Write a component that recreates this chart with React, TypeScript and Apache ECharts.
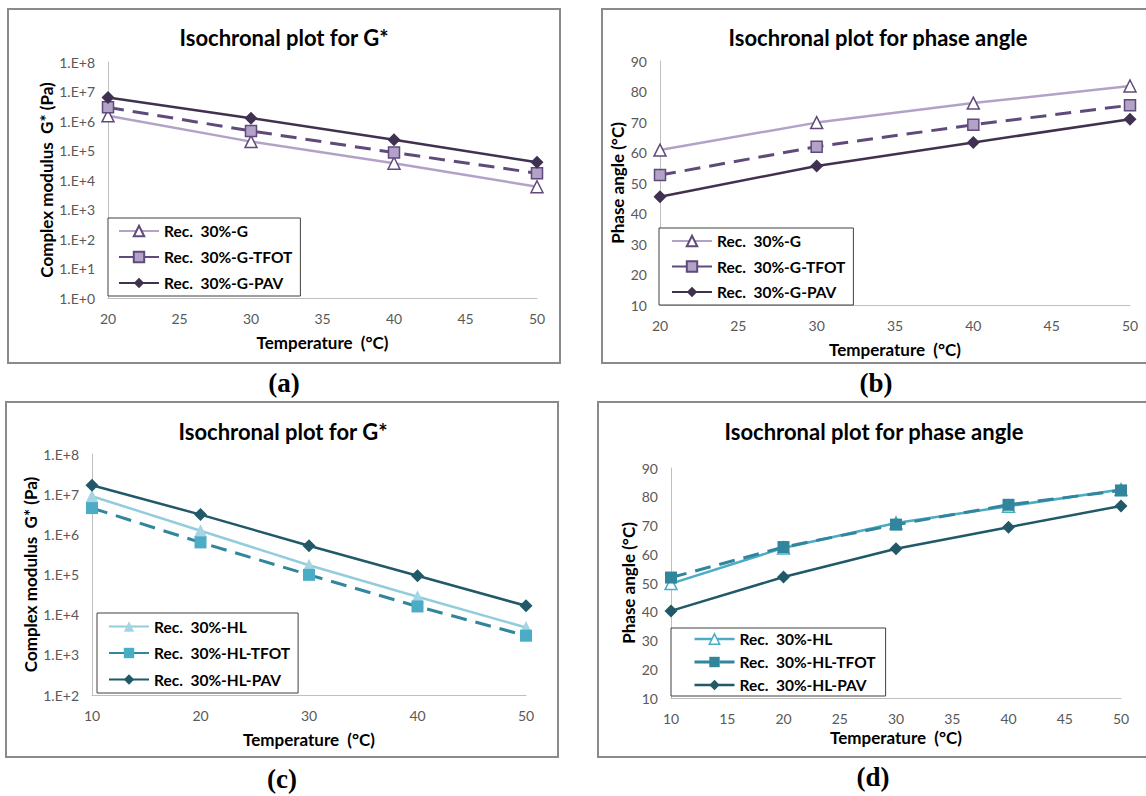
import React, { useEffect, useRef } from "react";
import * as echarts from "echarts";

// ---- data ----
const tempAB = [20, 30, 40, 50];
const gstarA_G = [1.5e6, 2.0e5, 3.7e4, 5.9e3];
const gstarA_TFOT = [2.9e6, 4.6e5, 8.5e4, 1.7e4];
const gstarA_PAV = [6.3e6, 1.25e6, 2.3e5, 4.0e4];

const phaseB_G = [60.8, 69.8, 76.2, 81.8];
const phaseB_TFOT = [52.6, 61.9, 69.1, 75.5];
const phaseB_PAV = [45.5, 55.6, 63.3, 70.9];

const tempCD = [10, 20, 30, 40, 50];
const gstarC_HL = [8.9e6, 1.23e6, 1.7e5, 2.8e4, 4.8e3];
const gstarC_TFOT = [4.5e6, 6.3e5, 9.8e4, 1.6e4, 3.0e3];
const gstarC_PAV = [1.66e7, 3.1e6, 5.2e5, 9.3e4, 1.66e4];

const phaseD_HL = [49.8, 62.2, 70.9, 76.7, 82.5];
const phaseD_TFOT = [51.9, 62.5, 70.3, 77.2, 82.2];
const phaseD_PAV = [40.3, 52.1, 61.9, 69.4, 76.8];

const namesG = ["Rec.  30%-G", "Rec.  30%-G-TFOT", "Rec.  30%-G-PAV"];
const namesHL = ["Rec.  30%-HL", "Rec.  30%-HL-TFOT", "Rec.  30%-HL-PAV"];

const titleG = "Isochronal plot for G*";
const titlePhase = "Isochronal plot for phase angle";
const xTitle = "Temperature  (°C)";
const yTitleG = "Complex modulus  G* (Pa)";
const yTitlePhase = "Phase angle (°C)";
const panelLabels = ["(a)", "(b)", "(c)", "(d)"];

const SANS = "Lato, 'Open Sans', sans-serif";
const DASH = [16, 9];

const pairs = (xs: number[], ys: number[]) => xs.map((x, i) => [x, ys[i]]);

export default function App() {
  const ref = useRef<HTMLDivElement>(null);

  useEffect(() => {
    if (!ref.current) return;
    const chart = echarts.init(ref.current, undefined, { renderer: "svg" });

    const axisLineStyle = { show: true, onZero: false, lineStyle: { color: "#bfbfbf", width: 1 } };
    const tickLabel = { color: "#595959", fontSize: 14, fontFamily: SANS };
    const nameStyle = { fontWeight: "bold" as const, fontSize: 17, color: "#000", fontFamily: SANS };

    const xAxis = (gridIndex: number, min: number, interval: number) => ({
      gridIndex,
      type: "value",
      min,
      max: 50,
      interval,
      axisLine: axisLineStyle,
      axisTick: { show: false },
      splitLine: { show: false },
      axisLabel: { ...tickLabel, margin: 13 },
      name: xTitle,
      nameLocation: "middle",
      nameGap: gridIndex === 3 ? 31 : 36,
      nameTextStyle: nameStyle,
    });

    const logFmt = (v: number) => "1.E+" + Math.round(Math.log10(v));

    const yLog = (gridIndex: number, min: number, split: number, gap: number) => ({
      gridIndex,
      type: "log",
      logBase: 10,
      min,
      max: 1e8,
      splitNumber: split,
      axisLine: axisLineStyle,
      axisTick: { show: false },
      splitLine: { show: false },
      axisLabel: { ...tickLabel, margin: 13, formatter: logFmt },
      name: yTitleG,
      nameLocation: "middle",
      nameRotate: 90,
      nameGap: gap,
      nameTextStyle: nameStyle,
    });

    const yPhase = (gridIndex: number, gap: number) => ({
      gridIndex,
      type: "value",
      min: 10,
      max: 90,
      interval: 10,
      axisLine: axisLineStyle,
      axisTick: { show: false },
      splitLine: { show: false },
      axisLabel: { ...tickLabel, margin: 13 },
      name: yTitlePhase,
      nameLocation: "middle",
      nameRotate: 90,
      nameGap: gap,
      nameTextStyle: nameStyle,
    });

    // purple styles
    const sG = (idx: number, data: number[][]) => ({
      name: namesG[0], type: "line", xAxisIndex: idx, yAxisIndex: idx, data,
      symbol: "triangle", symbolSize: 12,
      lineStyle: { color: "#b3a2c7", width: 2.5 },
      itemStyle: { color: "#ffffff", borderColor: "#604a7b", borderWidth: 1.5 },
    });
    const sGT = (idx: number, data: number[][]) => ({
      name: namesG[1], type: "line", xAxisIndex: idx, yAxisIndex: idx, data,
      symbol: "rect", symbolSize: 11,
      lineStyle: { color: "#604a7b", width: 3, type: DASH },
      itemStyle: { color: "#b3a2c7", borderColor: "#604a7b", borderWidth: 1.5 },
    });
    const sGP = (idx: number, data: number[][]) => ({
      name: namesG[2], type: "line", xAxisIndex: idx, yAxisIndex: idx, data,
      symbol: "diamond", symbolSize: 13,
      lineStyle: { color: "#403151", width: 2.5 },
      itemStyle: { color: "#403151" },
    });

    const series: any[] = [
      sG(0, pairs(tempAB, gstarA_G)),
      sGT(0, pairs(tempAB, gstarA_TFOT)),
      sGP(0, pairs(tempAB, gstarA_PAV)),
      sG(1, pairs(tempAB, phaseB_G)),
      sGT(1, pairs(tempAB, phaseB_TFOT)),
      sGP(1, pairs(tempAB, phaseB_PAV)),
      {
        name: namesHL[0], type: "line", xAxisIndex: 2, yAxisIndex: 2, data: pairs(tempCD, gstarC_HL),
        symbol: "triangle", symbolSize: 13,
        lineStyle: { color: "#93cddd", width: 2.5 },
        itemStyle: { color: "#a5d5e2" },
      },
      {
        name: namesHL[1], type: "line", xAxisIndex: 2, yAxisIndex: 2, data: pairs(tempCD, gstarC_TFOT),
        symbol: "rect", symbolSize: 12,
        lineStyle: { color: "#31859c", width: 3, type: DASH },
        itemStyle: { color: "#4bacc6" },
      },
      {
        name: namesHL[2], type: "line", xAxisIndex: 2, yAxisIndex: 2, data: pairs(tempCD, gstarC_PAV),
        symbol: "diamond", symbolSize: 13,
        lineStyle: { color: "#215968", width: 2.5 },
        itemStyle: { color: "#215968" },
      },
      {
        name: namesHL[0], type: "line", xAxisIndex: 3, yAxisIndex: 3, data: pairs(tempCD, phaseD_HL),
        symbol: "triangle", symbolSize: 12,
        lineStyle: { color: "#4bacc6", width: 2.5 },
        itemStyle: { color: "#ffffff", borderColor: "#4bacc6", borderWidth: 1.5 },
      },
      {
        name: namesHL[1], type: "line", xAxisIndex: 3, yAxisIndex: 3, data: pairs(tempCD, phaseD_TFOT),
        symbol: "rect", symbolSize: 12,
        lineStyle: { color: "#31859c", width: 3, type: DASH },
        itemStyle: { color: "#31859c" },
      },
      {
        name: namesHL[2], type: "line", xAxisIndex: 3, yAxisIndex: 3, data: pairs(tempCD, phaseD_PAV),
        symbol: "diamond", symbolSize: 13,
        lineStyle: { color: "#215968", width: 2.5 },
        itemStyle: { color: "#215968" },
      },
    ];

    const legendBase = {
      orient: "vertical",
      itemWidth: 40,
      itemHeight: 13,
      borderColor: "#404040",
      borderWidth: 1,
      backgroundColor: "#ffffff",
      selectedMode: false,
      textStyle: { color: "#000", fontSize: 15.5, fontWeight: "bold", fontFamily: SANS, lineHeight: 16 },
    };

    const frames = [
      [8, 9, 552, 354],
      [602, 9, 560, 354],
      [6, 402, 552, 355],
      [598, 402, 560, 355],
    ];
    const labelPos = [
      [284, 383],
      [876, 383],
      [282, 779],
      [873, 777],
    ];
    const titlePos = [
      [284, 37, titleG],
      [878, 37, titlePhase],
      [283, 431, titleG],
      [874, 431, titlePhase],
    ];

    const graphic: any[] = [];
    frames.forEach((f) =>
      graphic.push({
        type: "rect", z: -10, silent: true,
        shape: { x: f[0], y: f[1], width: f[2], height: f[3] },
        style: { fill: "none", stroke: "#8a8a8a", lineWidth: 2 },
      })
    );
    titlePos.forEach((t) =>
      graphic.push({
        type: "text", x: t[0] as number, y: t[1] as number,
        style: { text: t[2] as string, align: "center", verticalAlign: "middle", fill: "#000", font: `bold 22px ${SANS}` },
      })
    );
    labelPos.forEach((p, i) =>
      graphic.push({
        type: "text", x: p[0], y: p[1],
        style: { text: panelLabels[i], align: "center", verticalAlign: "middle", fill: "#000", font: "bold 27px 'Liberation Serif', 'Times New Roman', serif" },
      })
    );

    chart.setOption({
      animation: false,
      backgroundColor: "#ffffff",
      grid: [
        { left: 108, top: 62, width: 429, height: 236 },
        { left: 660, top: 61, width: 470, height: 244 },
        { left: 92, top: 454, width: 434, height: 241 },
        { left: 671, top: 468, width: 450, height: 230 },
      ],
      xAxis: [xAxis(0, 20, 5), xAxis(1, 20, 5), xAxis(2, 10, 10), xAxis(3, 10, 5)],
      yAxis: [yLog(0, 1, 8, 51), yPhase(1, 34), yLog(2, 100, 6, 50), yPhase(3, 34)],
      legend: [
        { ...legendBase, left: 108, top: 218, padding: [5, 8, 5, 10], itemGap: 10, data: namesG },
        { ...legendBase, left: 659, top: 228, padding: [5, 8, 5, 12], itemGap: 9.5, data: namesG },
        { ...legendBase, left: 97, top: 613, padding: [5.5, 8, 5.5, 11], itemGap: 10.5, data: namesHL },
        {
          ...legendBase, left: 671, top: 628, padding: [3, 10, 3, 22], itemGap: 7,
          data: [
            { name: namesHL[0], itemStyle: { color: "#ffffff", borderColor: "#4bacc6", borderWidth: 1.5 }, lineStyle: { color: "#4bacc6", width: 2.5, type: "solid" } },
            { name: namesHL[1], itemStyle: { color: "#31859c", borderWidth: 0 }, lineStyle: { color: "#31859c", width: 3, type: DASH } },
            { name: namesHL[2], itemStyle: { color: "#215968", borderWidth: 0 }, lineStyle: { color: "#215968", width: 2.5, type: "solid" } },
          ],
        },
      ],
      graphic,
      series,
    });

    return () => chart.dispose();
  }, []);

  return (
    <div
      ref={ref}
      style={{ position: "absolute", left: 0, top: 0, width: 1146, height: 796 }}
    />
  );
}
